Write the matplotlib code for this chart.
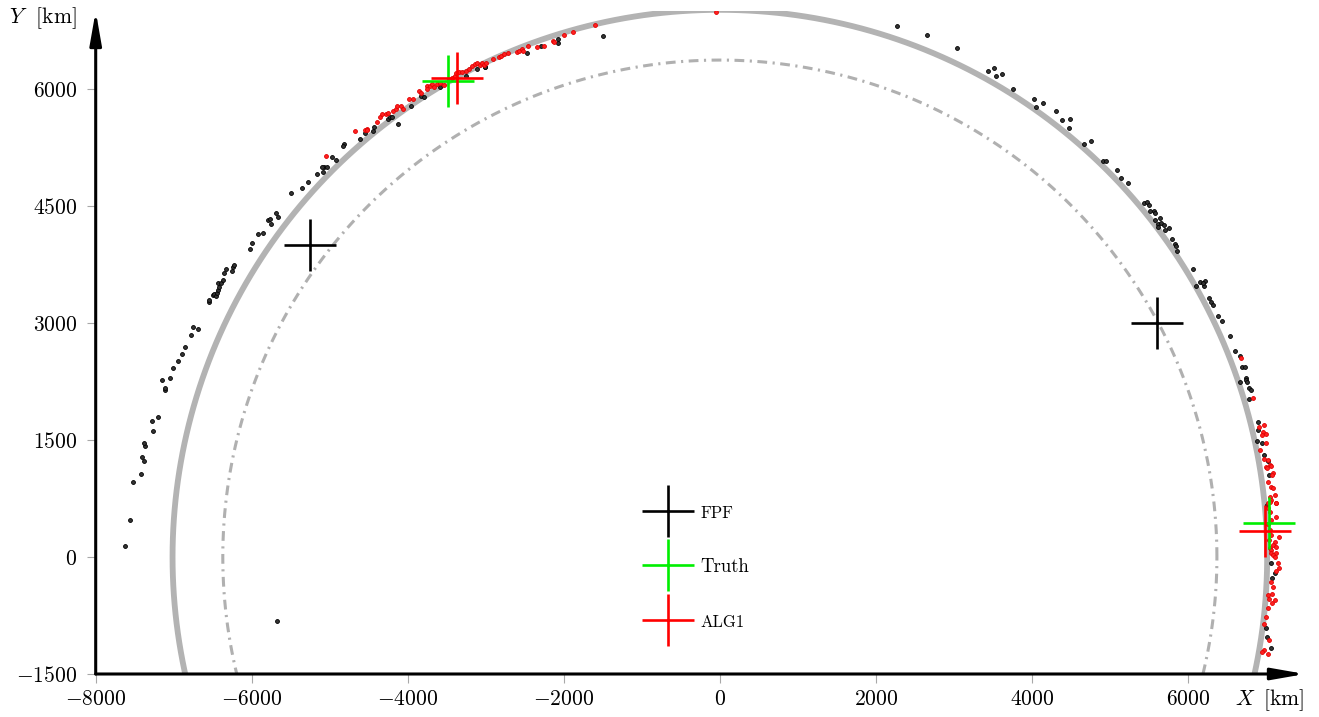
"""Orbit position estimates: FPF particles vs ALG1 particles around the truth."""

import matplotlib

matplotlib.use("Agg")
import matplotlib.pyplot as plt
import numpy as np
from matplotlib.lines import Line2D

plt.rcParams["font.family"] = ["cmr10"]
plt.rcParams["mathtext.fontset"] = "cm"
plt.rcParams["axes.formatter.use_mathtext"] = True

# reference orbit and Earth surface (km)
orbit_radius = 7015.0
earth_radius = 6371.0

# FPF particle cloud (km)
fpf_x = [-7625, -7561, -7522, -7415, -7376, -7410, -7364, -7380, -7264, -7281, -7196, -7114, -7106, -7144, -5676,
         -7049, -7011, -6942, -6900, -6861, -6775, -6749, -6689, -6552, -6552,
         -6500, -6479, -6462, -6449, -6436, -6423, -6436, -6392, -6367, -6359, -6328, -6251, -6243, -6230,
         -6028, -6002, -5916, -5856, -5792, -5770, -5757, -5693, -5658,
         -5500, -5358, -5281, -5165, -5091, -5078, -5036, -5097, -4968, -4920, -4813, -4826,
         -4611, -4547, -4448, -4435, -4254, -4228, -4199, -4131, -3959, -3834, -3796, -3585, -3258, -3108,
         -3005, -3010, -2477, -2293, -2078, -2078, -1498,
         2276, 2652, 3035, 3438, 3520, 3541, 3615, 3751, 4022, 4052, 4143, 4304, 4383, 4486, 4469, 4670,
         4760, 4915, 4945, 5090, 5147, 5225,
         5431, 5470, 5496, 5517, 5560, 5577, 5638, 5581, 5616, 5654, 5697, 5612, 5761, 5701,
         5792, 5830, 5851, 5856, 6069, 6148, 6105, 6208, 6221, 6199, 6275, 6293, 6323, 6384, 6440, 6539, 6597,
         6672, 6689, 6736, 6663, 6744, 6744, 6752, 6783, 6809, 6778, 6893, 6903, 6886, 6946, 6980, 7023,
         7041, 7010, 7067, 7118, 7074, 6994, 7010, 7058]
fpf_y = [145, 474, 965, 1068, 1231, 1282, 1419, 1465, 1619, 1747, 1799, 2141, 2170, 2269, -817,
         2299, 2419, 2517, 2606, 2696, 2846, 2945, 2927, 3269, 3291,
         3355, 3372, 3350, 3381, 3423, 3461, 3509, 3517, 3547, 3645, 3696, 3667, 3722, 3747,
         3949, 4029, 4145, 4158, 4320, 4337, 4273, 4410, 4363,
         4663, 4735, 4812, 4910, 4932, 5004, 5004, 5004, 5132, 5090, 5295, 5269,
         5359, 5440, 5465, 5516, 5615, 5645, 5645, 5547, 5782, 5910, 5901, 6029, 6166, 6252,
         6278, 6286, 6465, 6555, 6590, 6641, 6679,
         6803, 6696, 6525, 6231, 6265, 6163, 6192, 5996, 5868, 5773, 5816, 5714, 5599, 5611, 5504, 5295,
         5329, 5073, 5073, 4965, 4863, 4791,
         4542, 4555, 4513, 4440, 4436, 4406, 4350, 4320, 4269, 4286, 4256, 4234, 4214, 4192,
         4073, 4009, 3991, 3923, 3688, 3529, 3474, 3478, 3538, 3509, 3317, 3273, 3231, 3090, 3022, 2833, 2645,
         2581, 2440, 2440, 2243, 2299, 2265, 2240, 2167, 2141, 2022, 1727, 1624, 1491, 1458, 1308, 1235,
         1051, 667, -81, -201, -273, -906, -1022, -1170]

# ALG1 particle cloud (km)
alg_x = [-5045, -4675, -4547, -4525, -4517, -4396, -4353, -4324, -4285, -4259, -4195, -4147, -4138, -4087,
         -4061, -3980, -3933, -3860, -3829, -3752, -3709, -3752, -3688, -3658, -3624, -3581, -3538, -3431,
         -3400, -3378, -3345, -3302, -3258, -3216, -3172, -3143, -3108, -3074, -3043, -3022, -2992, -2914,
         -2829, -2808, -2765, -2714, -2602, -2572, -2541, -2528, -2465, -2344, -2250, -2143, -2121, -1992,
         -1884, -1606, -52,
         6680, 6829, 6980, 6916, 6959, 7002, 6946, 6994, 6925, 6972, 7023, 7045, 6994, 7016, 7067, 7087,
         7074, 7023, 7058, 7087, 7045, 7067, 7110, 7123, 7023,
         7054, 7131, 7032, 7054, 7131, 7067, 7032, 7045, 7060, 7040, 7055, 7161, 7118, 7087, 7125, 7058,
         7067, 7131, 7087, 7118, 7152, 7161, 7131, 7067, 7087, 7023, 7074, 7036, 7110, 7080, 7023, 7002,
         6972, 7036, 6980, 6946, 7023]
alg_y = [5141, 5465, 5474, 5487, 5470, 5577, 5637, 5675, 5675, 5696, 5722, 5740, 5782, 5782,
         5740, 5876, 5876, 5974, 5953, 6038, 6038, 5996, 6064, 6030, 6064, 6073, 6047, 6137,
         6170, 6201, 6218, 6222, 6235, 6252, 6295, 6320, 6329, 6307, 6337, 6307, 6329, 6380,
         6406, 6423, 6449, 6458, 6474, 6491, 6509, 6483, 6551, 6542, 6551, 6615, 6602, 6692,
         6727, 6820, 6987,
         2555, 2042, 1696, 1663, 1606, 1573, 1564, 1458, 1372, 1253, 1244, 1180, 1150, 1137, 1171, 1081,
         1051, 965, 901, 881, 773, 731, 795, 696, 696,
         709, 696, 624, 581, 517, 474, 423, 350, 280, 220, 120, 253, 196, 154, 132, 90,
         47, 55, 26, -4, -81, -137, -176, -317, -381, -487, -478, -538, -551, -594, -658, -773,
         -859, -1064, -1192, -1214, -1244]

# point estimates (km)
fpf_est_x = [-5250, 5600]
fpf_est_y = [4000, 3000]
truth_x = [-3490, 7035]
truth_y = [6100, 440]
alg_est_x = [-3370, 6990]
alg_est_y = [6135, 330]

xticks = [-8000, -6000, -4000, -2000, 0, 2000, 4000, 6000]
yticks = [-1500, 0, 1500, 3000, 4500, 6000]
legend_labels = ["FPF", "Truth", "ALG1"]


def main() -> None:
    fig = plt.figure(figsize=(13.19, 7.17), dpi=100)
    ax = fig.add_axes([95.7 / 1319, 43 / 717, 1209.3 / 1319, 663 / 717])
    ax.set_xlim(-8000, 7500)
    ax.set_ylim(-1500, 7000)

    theta = np.linspace(0, 2 * np.pi, 721)
    ax.plot(orbit_radius * np.cos(theta), orbit_radius * np.sin(theta), color="#b3b3b3", lw=4.2,
            solid_capstyle="butt", zorder=1)
    ax.plot(earth_radius * np.cos(theta), earth_radius * np.sin(theta), color="#b0b0b0", lw=2.2,
            ls=(0, (3.2, 1.8, 0.7, 1.8)), zorder=1)

    ax.plot(fpf_x, fpf_y, "o", ms=2.8, mfc="#333333", mec="black", mew=0.6, zorder=3)
    ax.plot(alg_x, alg_y, "o", ms=2.8, mfc="#ff2020", mec="#e00000", mew=0.6, zorder=3)

    cross = dict(ls="none", marker="+", ms=37, mew=1.9, zorder=5)
    ax.plot(fpf_est_x, fpf_est_y, color="black", **cross)
    ax.plot(truth_x, truth_y, color="#00ee00", **cross)
    ax.plot(alg_est_x, alg_est_y, color="red", **cross)

    handles = [Line2D([], [], color=c, **cross) for c in ("black", "#00ee00", "red")]
    leg = ax.legend(handles, legend_labels, loc="center left", bbox_to_anchor=(-900, -128),
                    bbox_transform=ax.transData, frameon=False, fontsize=13.5, borderpad=0,
                    borderaxespad=0, handlelength=1.93, handletextpad=0.77, labelspacing=2.0)
    leg.get_texts()[0].set_fontsize(12)
    leg.get_texts()[2].set_fontsize(12)

    for side in ("left", "right", "top", "bottom"):
        ax.spines[side].set_visible(False)
    arrow = dict(arrowstyle="-|>,head_length=2.0,head_width=0.35", color="black", lw=2.2,
                 shrinkA=0, shrinkB=0, mutation_scale=10)
    ax.annotate("", xy=(1, 0), xytext=(0, 0), xycoords="axes fraction", arrowprops=arrow, zorder=6)
    ax.annotate("", xy=(0, 1), xytext=(0, 0), xycoords="axes fraction", arrowprops=arrow, zorder=6)

    ax.set_xticks(xticks)
    ax.set_yticks(yticks)
    ax.tick_params(direction="out", length=6.5, width=0.8, color="#a8a8a8", labelsize=15.5)
    ax.tick_params(axis="y", pad=7)
    ax.tick_params(axis="x", pad=5)

    fig.text(9 / 1319, 1 - 18 / 717, r"$Y$  [km]", fontsize=15.5, ha="left", va="center")
    fig.text(1235 / 1319, 1 - 700 / 717, r"$X\,$ [km]", fontsize=15.5, ha="left", va="center")

    fig.savefig("out.png", dpi=100)
    plt.close(fig)


if __name__ == "__main__":
    main()
